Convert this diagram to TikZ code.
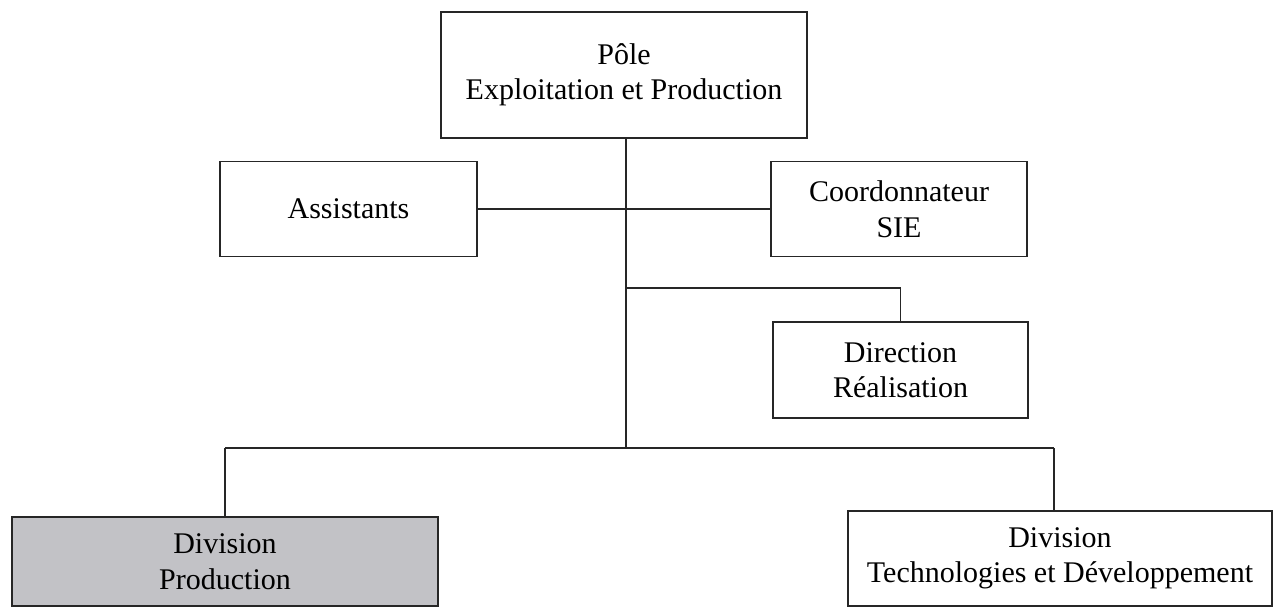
\documentclass[tikz,border=0pt]{standalone}
\usepackage{fontspec}
\setmainfont{Liberation Serif}
\definecolor{prodgray}{RGB}{194,194,198}
\begin{document}
\begin{tikzpicture}[x=1pt,y=-1pt,
  box/.style={draw=black!85, line width=1.3pt, fill=white, align=center,
    inner sep=0pt, font=\fontsize{30}{35.5}\selectfont},
  link/.style={draw=black!85, line width=1.3pt}]
\useasboundingbox (0,0) rectangle (1282,608);

% organisation boxes
\node[box, minimum width=366pt, minimum height=126pt] (pole) at (624,75)
  {Pôle\\Exploitation et Production};
\node[box, minimum width=257pt, minimum height=95pt] (assist) at (348.5,209)
  {Assistants};
\node[box, minimum width=256pt, minimum height=95pt] (coord) at (899,209)
  {Coordonnateur\\SIE};
\node[box, minimum width=255pt, minimum height=96pt] (direct) at (900.5,370)
  {Direction\\Réalisation};
\node[box, fill=prodgray, minimum width=426pt, minimum height=89pt] (divprod) at (225,561.5)
  {Division\\Production};
\node[box, minimum width=424pt, minimum height=95pt] (divtech) at (1060,558.5)
  {Division\\Technologies et Développement};

% junction points of the tree
\coordinate (trunk) at (626,448);
\coordinate (branch) at (626,288);
\coordinate (busL) at (225,448);
\coordinate (busR) at (1054,448);

% connectors
\draw[link] (pole.south -| trunk) -- (trunk);
\draw[link] (assist.east) -- (coord.west);
\draw[link] (branch) -| (direct.north);
\draw[link] (busL) -- (busR);
\draw[link] (busL) -- (divprod.north);
\draw[link] (busR) -- (busR |- divtech.north);
\end{tikzpicture}
\end{document}
